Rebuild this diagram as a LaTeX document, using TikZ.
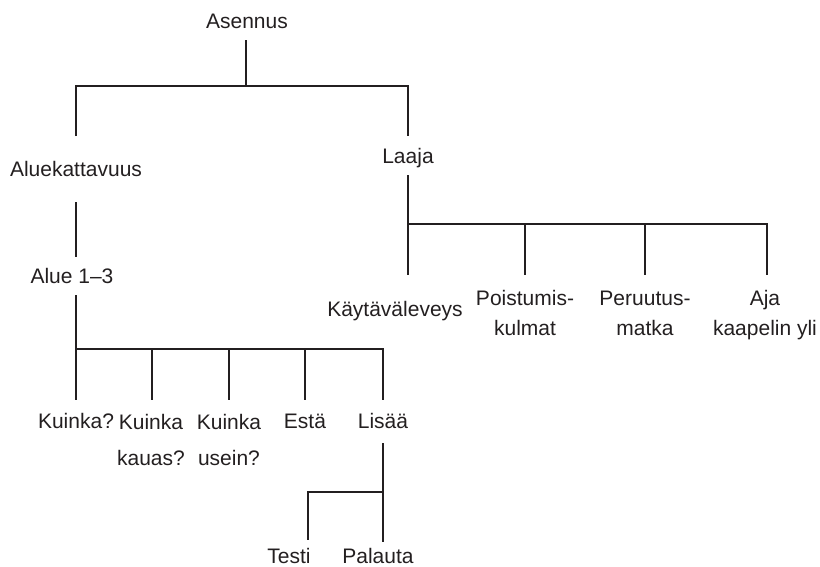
\documentclass[tikz,border=0pt]{standalone}
\usepackage{fontspec}
\setmainfont{Liberation Sans}
\definecolor{ink}{HTML}{231F20}
\begin{document}
\begin{tikzpicture}[x=1pt,y=-1pt,
  lbl/.style={anchor=base,inner sep=0pt,outer sep=0pt,text=ink,align=center,font=\fontsize{21}{36}\selectfont},
  lblr/.style={lbl,font=\fontsize{21}{30}\selectfont},
  conn/.style={draw=ink,line width=2.6pt,line cap=butt,line join=miter}]
\useasboundingbox (0,0) rectangle (820,566);
% labels (multi-line labels are placed at the baseline of their last line)
\node[lbl] (asennus) at (247,28) {Asennus};
\node[lbl] (alueka) at (76,176) {Aluekattavuus};
\node[lbl] (laaja) at (408,163) {Laaja};
\node[lbl] (alue) at (72,283) {Alue 1–3};
\node[lbl] (kayta) at (395,316) {Käytäväleveys};
\node[lblr] (poist) at (525,335) {Poistumis-\\kulmat};
\node[lblr] (peruu) at (645,335) {Peruutus-\\matka};
\node[lblr] (aja) at (765,335) {Aja\\kaapelin yli};
\node[lbl] (k1) at (76,428) {Kuinka?};
\node[lbl] (k2) at (151,465) {Kuinka\\kauas?};
\node[lbl] (k3) at (229,465) {Kuinka\\usein?};
\node[lbl] (esta) at (305,428) {Estä};
\node[lbl] (lisaa) at (383,428) {Lisää};
\node[lbl] (testi) at (289,563) {Testi};
\node[lbl] (palauta) at (378,563) {Palauta};
% connector end points
\coordinate (asennus-b) at (246,40);
\coordinate (bus1) at (246,86);
\coordinate (alueka-t) at (76,136);
\coordinate (laaja-t) at (408,136);
\coordinate (laaja-b) at (408,175);
\coordinate (bus2) at (408,224);
\coordinate (kayta-t) at (408,275);
\coordinate (poist-t) at (525,275);
\coordinate (peruu-t) at (645,275);
\coordinate (aja-t) at (767,275);
\coordinate (alueka-b) at (76,202);
\coordinate (alue-t) at (76,257);
\coordinate (alue-b) at (76,295);
\coordinate (bus3) at (76,349);
\coordinate (k1-t) at (76,400);
\coordinate (k2-t) at (152,400);
\coordinate (k3-t) at (229,400);
\coordinate (esta-t) at (305,400);
\coordinate (lisaa-t) at (383,400);
\coordinate (lisaa-b) at (383,443);
\coordinate (bus4) at (383,492);
\coordinate (testi-t) at (308,540);
\coordinate (palauta-t) at (383,542);
% connectors
\draw[conn] (asennus-b) -- (bus1);
\draw[conn] (alueka-t) |- (bus1) -| (laaja-t);
\draw[conn] (laaja-b) -- (kayta-t);
\draw[conn] (bus2) -| (aja-t);
\draw[conn] (bus2 -| poist-t) -- (poist-t);
\draw[conn] (bus2 -| peruu-t) -- (peruu-t);
\draw[conn] (alueka-b) -- (alue-t);
\draw[conn] (alue-b) -- (k1-t);
\draw[conn] (bus3) -| (lisaa-t);
\draw[conn] (bus3 -| k2-t) -- (k2-t);
\draw[conn] (bus3 -| k3-t) -- (k3-t);
\draw[conn] (bus3 -| esta-t) -- (esta-t);
\draw[conn] (lisaa-b) -- (palauta-t);
\draw[conn] (bus4) -| (testi-t);
\end{tikzpicture}
\end{document}
